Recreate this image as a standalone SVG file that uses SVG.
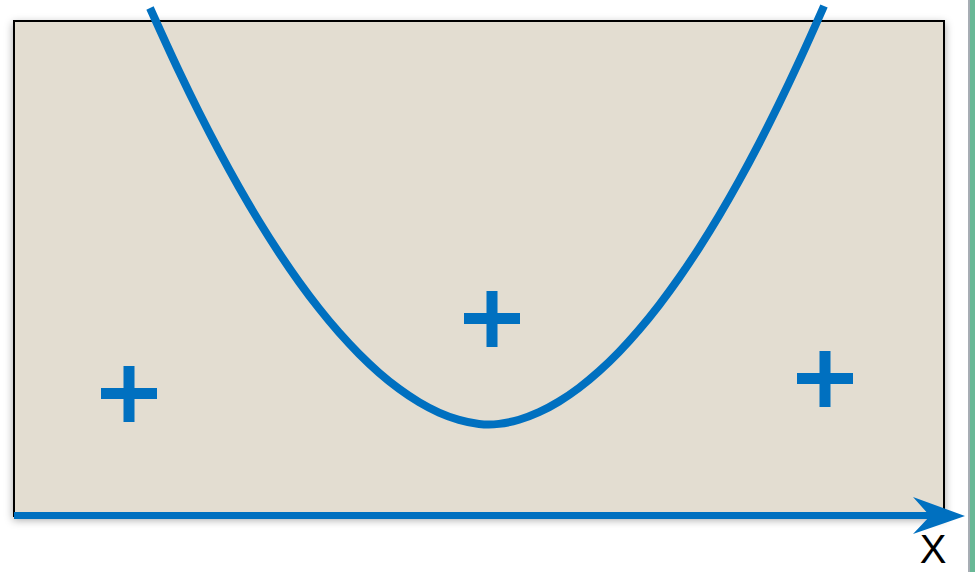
<svg xmlns="http://www.w3.org/2000/svg" width="975" height="572" viewBox="0 0 975 572">
<defs>
<filter id="sh" x="-5%" y="-5%" width="110%" height="115%">
<feDropShadow dx="0" dy="3" stdDeviation="4" flood-color="#000" flood-opacity="0.35"/>
</filter>
<style>
.blue{stroke:#0070C0;fill:none}
.plus{stroke:#0070C0;stroke-width:11;fill:none}
</style>
</defs>
<rect width="975" height="572" fill="#fff"/>
<rect x="968" y="0" width="2" height="572" fill="#a7adb4"/>
<rect x="970" y="0" width="5" height="572" fill="#68b896"/>
<g id="box">
<rect x="14" y="21" width="930" height="495" fill="#E3DDD1" stroke="#000" stroke-width="2" filter="url(#sh)"/>
</g>
<g id="curve">
<path class="blue" stroke-width="8" d="M150,8 Q169,50.2 179,71.3 Q189,92.4 199,112.3 Q209,132.2 219,150.95 Q229,169.7 239,187.3 Q249,204.9 259,221.25 Q269,237.6 279,252.75 Q289,267.9 299,281.8 Q309,295.7 319,308.4 Q329,321.1 339,332.45 Q349,343.8 359,353.85 Q369,363.9 379,372.65 Q389,381.4 399,388.75 Q409,396.1 419,402.1 Q429,408.1 439,412.55 Q449,417 459,419.9 Q469,422.8 479,423.9 Q489,425 499,423.85 Q509,422.7 519,419.75 Q529,416.8 539,412.2 Q549,407.6 559,401.5 Q569,395.4 579,387.85 Q589,380.3 599,371.3 Q609,362.3 619,351.95 Q629,341.6 639,329.9 Q649,318.2 659,305.2 Q669,292.2 679,277.9 Q689,263.6 699,248.05 Q709,232.5 719,215.7 Q729,198.9 739,180.9 Q749,162.9 759,143.6 Q769,124.3 779,103.8 Q789,83.3 799,61.65 Q809,40 824,6"/>
</g>
<g id="plus1"><path class="plus" d="M101,393.5 H157 M129,366 V422"/></g>
<g id="plus2"><path class="plus" d="M464,318.5 H520 M492,291 V347"/></g>
<g id="plus3"><path class="plus" d="M797,378.5 H853 M825,351 V407"/></g>
<g id="connectors">
<line class="blue" x1="14" y1="515.5" x2="932" y2="515.5" stroke-width="7"/>
<polygon points="965,516 913,497 930,516 913,534" fill="#0070C0"/>
</g>
<g id="label">
<text x="933" y="563" font-family="Liberation Sans, Arial, sans-serif" font-size="40" text-anchor="middle" fill="#000">X</text>
</g>
</svg>
